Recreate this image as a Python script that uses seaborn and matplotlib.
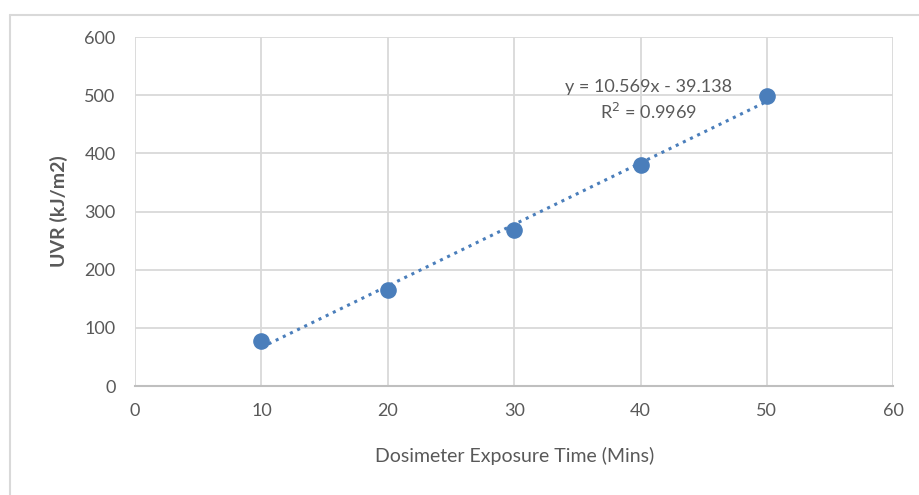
import numpy as np
import matplotlib.pyplot as plt
import seaborn as sns
from matplotlib.lines import Line2D

# data
exposure_mins = [10, 20, 30, 40, 50]
uvr_kj_m2 = [78, 165, 268, 380, 499]
x_ticks = [0, 10, 20, 30, 40, 50, 60]
y_ticks = [0, 100, 200, 300, 400, 500, 600]

sns.set_style("white")
plt.rcParams['font.family'] = ['Lato', 'DejaVu Sans']

blue = "#4a7ebb"
grey_text = "#595959"
grid_col = "#d9d9d9"

fig = plt.figure(figsize=(9.19, 4.95), dpi=100)
ax = fig.add_axes([0.147, 0.220, 0.825, 0.705])

sns.regplot(x=exposure_mins, y=uvr_kj_m2, ax=ax, ci=None,
            scatter_kws=dict(s=120, color=blue, alpha=1, zorder=4),
            line_kws=dict(color=blue, linestyle=(0, (1, 1.6)), linewidth=2.2, zorder=3))

ax.set_xlim(0, 60)
ax.set_ylim(0, 600)
ax.set_xticks(x_ticks)
ax.set_yticks(y_ticks)
ax.grid(True, color=grid_col, linewidth=1.3)
ax.set_axisbelow(True)
for s in ["top", "right", "left"]:
    ax.spines[s].set_visible(False)
ax.spines["bottom"].set_color("#bfbfbf")
ax.spines["bottom"].set_linewidth(1.5)
ax.tick_params(axis="both", length=0, labelsize=13, labelcolor=grey_text, pad=12)
ax.tick_params(axis="y", pad=14)

ax.set_xlabel("Dosimeter Exposure Time (Mins)", fontsize=14, color=grey_text, labelpad=20)
ax.set_ylabel("UVR (kJ/m2)", fontsize=14, color=grey_text, fontweight="bold", labelpad=12)

ax.text(40.6, 515, "y = 10.569x - 39.138", fontsize=13, color=grey_text, ha="center", va="center")
ax.text(40.6, 472, "R$^2$ = 0.9969", fontsize=13, color=grey_text, ha="center", va="center")

# outer chart frame
fig.add_artist(Line2D([10 / 919, 10 / 919], [0, 1 - 15 / 495], color="#d9d9d9", linewidth=1.5))
fig.add_artist(Line2D([10 / 919, 1], [1 - 15 / 495, 1 - 15 / 495], color="#d9d9d9", linewidth=1.5))

fig.savefig("out.png", dpi=100)
